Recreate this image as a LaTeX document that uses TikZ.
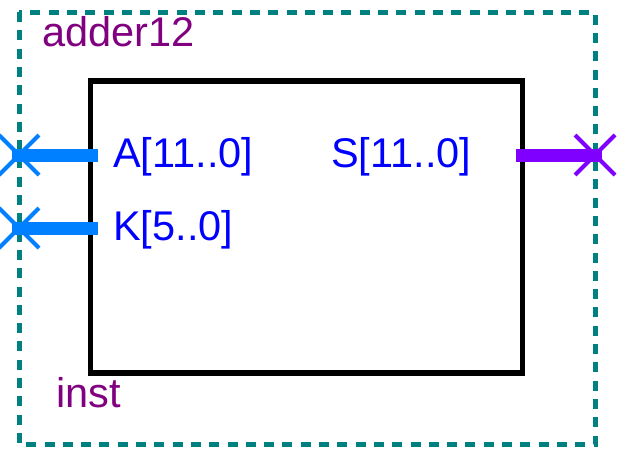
\documentclass[tikz,border=0pt]{standalone}
\usepackage{fontspec}
\setmainfont{Liberation Sans}
\usetikzlibrary{shapes.misc}
\definecolor{teal}{RGB}{0,128,128}
\definecolor{portblue}{RGB}{0,128,255}
\definecolor{portviolet}{RGB}{128,0,255}
\definecolor{txtblue}{RGB}{0,0,255}
\definecolor{lblpurple}{RGB}{128,0,128}
\begin{document}
\begin{tikzpicture}[x=1pt,y=-1pt,
  bigtext/.style={inner sep=0pt, anchor=base west, font=\fontsize{41.5}{48}\selectfont},
  portlbl/.style={bigtext, text=txtblue},
  instlbl/.style={bigtext, text=lblpurple},
  pinx/.style={cross out, draw, line width=4pt, minimum size=40pt, inner sep=0pt, outer sep=0pt},
  bus/.style={line width=13pt}]
\useasboundingbox (0,0) rectangle (630,461);
% outer dashed frame
\draw[teal, line width=5pt, dash pattern=on 10pt off 8.3pt] (19,12) rectangle (595,444);
% symbol box
\node[draw=black, line width=5.5pt, minimum width=432pt, minimum height=292pt, inner sep=0pt, outer sep=0pt, anchor=north west] (blk) at (90.5,81) {};
% labels
\node[instlbl] (name) at (42,46) {adder12};
\node[instlbl] (inst) at (56,407) {inst};
\node[portlbl] (la) at (113,167) {A[11..0]};
\node[portlbl] (lk) at (113,240) {K[5..0]};
\node[portlbl] (ls) at (331,167) {S[11..0]};
% ports
\coordinate (aout) at (12,155);
\coordinate (ain) at (98,155);
\coordinate (kout) at (12,228);
\coordinate (kin) at (98,228);
\coordinate (sin) at (516,155);
\coordinate (sout) at (602,155);
\draw[bus, portblue] (aout) -- (ain);
\draw[bus, portblue] (kout) -- (kin);
\draw[bus, portviolet] (sin) -- (sout);
\node[pinx, portblue] (xa) at (19,155) {};
\node[pinx, portblue] (xk) at (19,228) {};
\node[pinx, portviolet] (xs) at (595,155) {};
\end{tikzpicture}
\end{document}
